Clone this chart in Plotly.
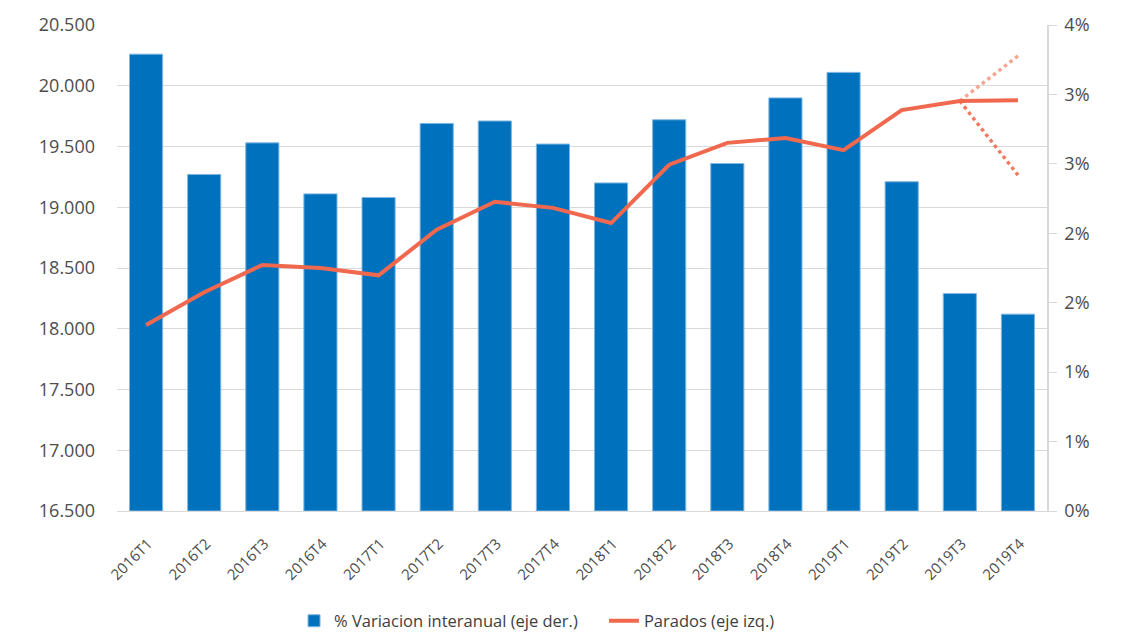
import plotly.graph_objects as go

categories = ["2016T1", "2016T2", "2016T3", "2016T4", "2017T1", "2017T2", "2017T3", "2017T4",
              "2018T1", "2018T2", "2018T3", "2018T4", "2019T1", "2019T2", "2019T3", "2019T4"]
variacion = [0.0376, 0.0277, 0.0303, 0.0261, 0.0258, 0.0319, 0.0321, 0.0302,
             0.0270, 0.0322, 0.0286, 0.0340, 0.0361, 0.0271, 0.0179, 0.0162]
parados = [18030, 18300, 18525, 18500, 18440, 18815, 19045, 18995,
           18870, 19350, 19530, 19570, 19470, 19800, 19875, 19880]
escenario_x = ["2019T3", "2019T4"]
escenario_alto = [19875, 20245]
escenario_bajo = [19875, 19265]

fig = go.Figure()
fig.add_trace(go.Bar(
    x=categories, y=variacion, name="% Variacion interanual (eje der.)",
    marker=dict(color="#0071BD", line=dict(color="#7FB6E0", width=1)),
    yaxis="y", legend="legend",
))
fig.add_trace(go.Scatter(
    x=escenario_x, y=escenario_alto, mode="lines", showlegend=False,
    line=dict(color="#F6A690", width=3.5, dash="dot"), yaxis="y2", hoverinfo="skip",
))
fig.add_trace(go.Scatter(
    x=escenario_x, y=escenario_bajo, mode="lines", showlegend=False,
    line=dict(color="#F07A5E", width=3.5, dash="dot"), yaxis="y2", hoverinfo="skip",
))
fig.add_trace(go.Scatter(
    x=categories, y=parados, mode="lines", name="Parados (eje izq.)",
    line=dict(color="#F0694F", width=4), yaxis="y2", legend="legend2",
))

font_family = "Open Sans"
tick_color = "#4D4D4D"
legend_font = dict(size=16.5, color="#404040", family=font_family)

# page body has an 8px margin, so the figure is 8px smaller than the window
fig.update_layout(
    width=1116, height=627,
    margin=dict(l=109, r=77, t=17, b=124, autoexpand=False),
    paper_bgcolor="white", plot_bgcolor="white",
    bargap=0.43,
    separators=",.",
    font=dict(family=font_family, color=tick_color),
    showlegend=True,
    legend=dict(orientation="h", xref="container", yref="container",
                x=0.2563, xanchor="left", y=0.0223, yanchor="middle", font=legend_font),
    legend2=dict(orientation="h", xref="container", yref="container",
                 x=0.534, xanchor="left", y=0.0223, yanchor="middle", font=legend_font),
    xaxis=dict(
        type="category", tickangle=-45, tickfont=dict(size=15, color=tick_color),
        showline=True, linecolor="#d9d9d9", linewidth=1, showgrid=False, ticks="",
        ticklabelstandoff=17, ticklabelshift=2, automargin=False,
    ),
    yaxis=dict(
        side="right", range=[0, 0.04], tickmode="linear", tick0=0, dtick=0.04 / 7,
        tickformat=".0%", showgrid=False, zeroline=False,
        showline=True, linecolor="#d9d9d9", linewidth=1.5,
        ticks="outside", ticklen=8, tickcolor="#d9d9d9", ticklabelstandoff=4,
        tickfont=dict(size=18, color=tick_color), automargin=False,
    ),
    yaxis2=dict(
        side="left", overlaying="y", range=[16500, 20500], tickmode="linear", tick0=16500, dtick=500,
        tickformat=",d",
        showgrid=True, gridcolor="#d9d9d9", gridwidth=1.3, zeroline=False, showline=False,
        ticks="", ticklabelstandoff=21, tickfont=dict(size=18, color=tick_color), automargin=False,
    ),
)
fig.write_html("out.html")
